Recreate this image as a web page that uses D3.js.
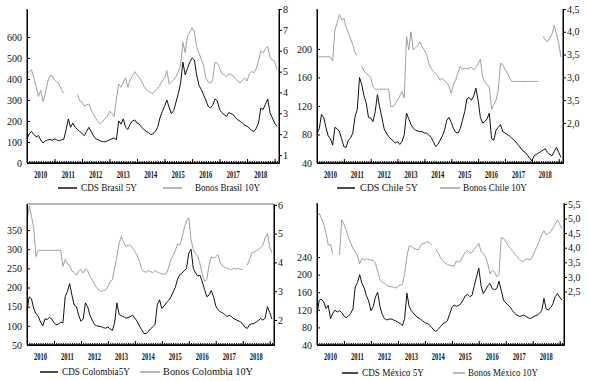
<!DOCTYPE html>
<html>
<head>
<meta charset="utf-8">
<script src="https://cdn.jsdelivr.net/npm/d3@7"></script>
<style>
  body { margin: 0; background: #fff; }
  svg text { font-family: "Liberation Serif", "Times New Roman", serif; fill: #111; }
</style>
</head>
<body>
<div id="chart"></div>
<script>
// ---------- datos (mensuales, ene-2010 a feb-2019) ----------
const startYear = 2010;
const yearLabels = ["2010", "2011", "2012", "2013", "2014", "2015", "2016", "2017", "2018"];

const brasilCDS = [
  115,140,150,135,125,130,110,95,105,110,112,108,
  115,110,105,110,112,155,210,170,190,170,160,150,
  140,130,150,170,150,130,115,110,105,102,100,105,
  110,115,120,110,200,185,210,170,160,185,200,205,
  190,185,170,160,150,145,135,140,150,170,215,245,
  270,300,265,235,250,290,330,380,480,420,450,480,
  500,490,420,370,350,325,300,270,262,275,305,295,
  255,240,230,222,240,235,230,215,205,198,190,180,
  175,165,155,150,165,190,262,255,280,305,240,215,
  190,175
];
const brasilBonos = [
  4.9,5.0,5.08,4.7,4.3,3.8,4.1,3.56,3.95,4.5,4.8,4.8,
  4.6,4.5,4.4,4.15,3.96,null,null,null,null,null,3.9,3.6,
  3.55,3.35,3.4,3.45,3.15,2.95,2.75,2.6,2.5,2.6,2.75,2.85,
  3.1,3.0,2.85,3.7,4.4,4.25,4.5,4.7,4.25,4.6,4.8,5.0,
  4.85,4.7,4.55,4.3,4.15,4.05,4.0,3.95,4.1,4.2,4.35,4.55,
  4.7,5.05,4.4,4.5,4.6,4.75,5.0,5.3,6.4,5.9,6.7,6.9,
  7.1,6.9,6.2,5.9,5.6,5.3,4.7,4.5,4.45,4.6,5.45,5.4,
  5.2,4.9,4.85,4.75,4.9,4.85,4.8,4.65,4.55,4.45,4.6,4.7,
  4.55,4.9,5.0,4.95,5.15,5.5,6.0,5.9,6.1,6.2,5.7,5.55,
  5.5,5.1
];

const chileCDS = [
  82,88,108,104,90,78,74,65,90,88,84,74,
  63,62,72,75,82,105,115,160,150,134,124,104,
  103,98,112,136,118,104,88,82,77,74,71,68,
  70,66,70,80,110,102,94,89,86,85,84,84,
  82,82,79,76,70,63,66,72,78,86,100,104,
  97,88,83,82,88,100,112,130,132,128,134,145,
  128,104,96,98,102,110,74,72,86,90,94,84,
  82,80,78,75,72,69,65,61,57,55,51,47,
  43,50,52,54,56,58,60,55,52,50,56,62,
  55,48
];
const chileBonos = [
  3.45,3.45,3.45,3.45,3.45,3.45,3.45,3.36,4.04,4.2,4.38,4.26,
  4.3,4.1,3.97,3.84,3.72,3.53,3.5,null,3.24,3.14,3.08,3.05,
  3.0,2.8,2.74,2.74,2.74,2.74,2.74,2.74,2.74,2.36,2.36,2.42,
  2.5,2.6,2.69,2.55,3.9,3.6,4.0,3.6,3.65,3.7,3.78,3.67,
  3.6,3.5,3.3,3.2,3.13,3.08,3.02,2.94,2.98,2.92,2.88,2.8,
  2.65,2.85,2.95,3.1,3.24,3.18,3.2,3.18,3.2,3.22,3.16,3.22,
  3.3,3.4,3.0,2.9,2.83,2.8,2.3,2.4,2.5,2.72,3.31,3.28,
  3.18,3.1,3.0,2.91,2.91,2.91,2.91,2.91,2.91,2.91,2.91,2.91,
  2.91,2.91,2.91,2.91,null,3.9,3.82,3.78,3.86,3.95,4.15,3.95,
  3.75,3.45
];

const colombiaCDS = [
  140,176,170,145,132,125,110,100,118,117,122,118,
  108,103,104,110,108,176,190,210,180,154,150,128,
  112,118,160,150,128,115,104,100,99,98,95,94,
  97,92,88,108,160,130,126,124,120,122,124,128,
  120,112,100,90,80,80,85,92,98,104,155,168,
  145,152,160,166,175,188,200,222,234,238,244,250,
  290,300,250,238,230,232,215,195,176,180,192,176,
  152,142,137,134,130,124,128,124,119,116,113,111,
  104,97,93,103,105,106,110,114,119,115,120,150,
  135,118
];
const colombiaBonos = [
  5.44,5.96,5.6,5.2,4.2,4.42,4.42,4.42,4.42,4.42,4.42,4.42,
  4.42,4.42,4.42,4.42,3.86,4.1,3.95,3.9,3.7,3.65,3.55,3.7,
  3.75,3.63,3.78,3.72,3.5,3.4,3.25,3.12,3.05,2.99,3.02,3.05,
  3.15,3.34,3.4,3.8,4.2,4.65,4.9,4.7,4.55,4.6,4.6,4.5,
  4.39,4.25,4.05,3.78,3.68,3.66,3.72,3.68,3.64,3.72,3.66,3.63,
  3.6,3.58,3.62,3.8,4.1,4.25,4.4,4.65,4.6,4.85,5.2,5.44,
  5.55,4.8,4.45,4.3,4.21,3.95,3.6,3.35,3.4,3.9,4.2,4.15,
  4.2,4.27,3.98,3.88,3.84,3.8,3.77,3.75,3.8,3.76,3.8,3.76,
  3.75,null,3.9,4.1,4.33,4.36,4.4,4.45,4.5,4.6,4.86,5.0,
  4.55,4.33
];

const mexicoCDS = [
  112,142,144,138,123,130,100,112,119,115,118,114,
  106,102,106,112,122,172,182,200,180,170,152,140,
  118,127,149,160,128,110,100,97,99,99,97,95,
  92,89,84,100,158,128,118,112,106,102,99,95,
  91,89,86,80,74,71,76,82,88,91,95,110,
  125,131,128,130,134,142,152,155,150,153,175,195,
  215,175,157,165,175,180,168,166,168,185,164,142,
  136,131,126,118,112,108,105,106,108,105,102,100,
  103,106,108,112,118,146,122,120,125,134,150,157,
  149,142
];
const mexicoBonos = [
  5.07,5.18,5.0,4.8,4.5,4.1,4.1,3.8,null,null,3.75,4.95,
  4.8,4.6,4.35,4.15,3.98,3.85,3.75,3.45,3.64,3.58,3.62,3.6,
  3.58,3.56,3.47,3.2,2.9,2.82,2.78,2.72,2.67,2.67,2.65,2.62,
  2.67,2.72,2.75,3.1,3.7,4.06,4.05,3.98,3.95,3.92,4.05,4.15,
  4.15,4.2,4.18,4.1,null,3.95,3.81,3.65,3.55,3.47,3.43,3.4,
  3.38,3.36,3.55,3.5,3.55,3.72,3.85,3.9,3.82,3.85,3.95,4.04,
  4.15,3.87,3.8,3.68,3.45,3.1,3.22,3.18,3.0,3.1,4.35,4.32,
  4.2,4.08,3.98,3.88,3.78,3.7,3.6,3.55,3.53,3.62,3.6,3.6,
  3.72,3.9,4.05,4.25,4.45,4.58,4.45,4.5,4.55,4.67,4.8,4.95,
  4.8,4.65
];

// ticks
const brasilLeftTicks = [0, 100, 200, 300, 400, 500, 600];
const brasilRightTicks = [1, 2, 3, 4, 5, 6, 7, 8];
const chileLeftTicks = [40, 80, 120, 160, 200];
const chileRightTicks = [2.0, 2.5, 3.0, 3.5, 4.0, 4.5];
const chileRightLabels = ["2,0", "3,5", "3,0", "3,5", "4,0", "4,5"];
const colombiaLeftTicks = [50, 100, 150, 200, 250, 300, 350];
const colombiaRightTicks = [2, 3, 4, 5, 6];
const mexicoLeftTicks = [40, 80, 120, 160, 200, 240];
const mexicoRightTicks = [2.5, 3.0, 3.5, 4.0, 4.5, 5.0, 5.5];
const mexicoRightLabels = ["2,5", "3,0", "3,5", "4,0", "4,5", "5,0", "5,5"];

// ---------- SVG ----------
const W = 589, H = 381;
const svg = d3.select("#chart").append("svg")
  .attr("width", W).attr("height", H);

const GRIS = "#a0a0a0";
const NEGRO = "#111";

function dibujarPanel(p) {
  const g = svg.append("g");
  const x = d3.scaleLinear().domain([2010, 2019.16]).range([p.x0, p.x1]);
  const yL = d3.scaleLinear().domain(p.leftDomain).range([p.yBottom, p.yTop]);
  const yR = d3.scaleLinear().domain(p.rightDomain).range([p.yBottom, p.yTop]);

  if (p.topLine) {
    g.append("line")
      .attr("x1", p.x0).attr("x2", p.x1)
      .attr("y1", p.yTop).attr("y2", p.yTop)
      .attr("stroke", GRIS).attr("stroke-width", 1.5);
  }

  const t = i => startYear + i / 12;

  // serie gris (eje derecho) primero, negra encima
  const lineR = d3.line().defined(d => d != null)
    .x((d, i) => x(t(i))).y(d => yR(d));
  const lineL = d3.line().defined(d => d != null)
    .x((d, i) => x(t(i))).y(d => yL(d));

  g.append("path").datum(p.bonos)
    .attr("d", lineR).attr("fill", "none")
    .attr("stroke", GRIS).attr("stroke-width", 1);
  g.append("path").datum(p.cds)
    .attr("d", lineL).attr("fill", "none")
    .attr("stroke", NEGRO).attr("stroke-width", 1);

  // eje izquierdo
  const axL = g.append("g").attr("transform", `translate(${p.x0},0)`)
    .call(d3.axisLeft(yL).tickValues(p.leftTicks).tickSize(-3).tickSizeOuter(0).tickPadding(5));
  // eje derecho
  const axR = g.append("g").attr("transform", `translate(${p.x1},0)`)
    .call(d3.axisRight(yR).tickValues(p.rightTicks).tickSize(3).tickSizeOuter(0).tickPadding(1)
      .tickFormat((d, i) => p.rightLabels ? p.rightLabels[i] : d));
  // eje inferior: marcas mensuales y anuales
  const meses = d3.range(0, 110).map(t);
  g.append("g").attr("transform", `translate(0,${p.yBottom})`)
    .call(d3.axisBottom(x).tickValues(meses).tickSize(-2).tickSizeOuter(0).tickFormat(""));
  g.append("g").attr("transform", `translate(0,${p.yBottom})`)
    .call(d3.axisBottom(x).tickValues(d3.range(2010, 2020)).tickSize(-4).tickSizeOuter(0).tickFormat(""));

  [axL, axR].forEach(a => {
    a.selectAll("text").style("font-size", "10px").style("font-family", "'Liberation Serif', serif");
    a.selectAll("path, line").attr("stroke", "#000");
  });
  // extender ejes verticales hasta abajo
  g.append("line").attr("x1", p.x0).attr("x2", p.x0)
    .attr("y1", p.yTop).attr("y2", p.yBottom).attr("stroke", "#000");
  g.append("line").attr("x1", p.x1).attr("x2", p.x1)
    .attr("y1", p.yTop).attr("y2", p.yBottom).attr("stroke", "#000");
  g.append("line").attr("x1", p.x0).attr("x2", p.x1)
    .attr("y1", p.yBottom).attr("y2", p.yBottom).attr("stroke", "#000").attr("stroke-width", 1.3);

  // etiquetas de años
  g.selectAll(".anio").data(yearLabels).join("text")
    .attr("class", "anio")
    .attr("x", d => x(+d + 0.5))
    .attr("y", p.yBottom + 15)
    .attr("text-anchor", "middle")
    .attr("textLength", 13).attr("lengthAdjust", "spacingAndGlyphs")
    .style("font-size", "10px").style("font-weight", "bold")
    .text(d => d);

  // leyenda
  const ly = p.legendY;
  g.append("line").attr("x1", p.legend[0]).attr("x2", p.legend[1])
    .attr("y1", ly).attr("y2", ly).attr("stroke", NEGRO).attr("stroke-width", 1.5);
  g.append("text").attr("x", p.legend[2]).attr("y", ly + 3)
    .attr("textLength", p.legend[3]).attr("lengthAdjust", "spacingAndGlyphs")
    .style("font-size", "10px").text(p.cdsName);
  g.append("line").attr("x1", p.legend[4]).attr("x2", p.legend[5])
    .attr("y1", ly).attr("y2", ly).attr("stroke", GRIS).attr("stroke-width", 1.5);
  g.append("text").attr("x", p.legend[6]).attr("y", ly + 3)
    .attr("textLength", p.legend[7]).attr("lengthAdjust", "spacingAndGlyphs")
    .style("font-size", "10px").text(p.bonosName);
}

dibujarPanel({
  x0: 27, x1: 279, yTop: 9, yBottom: 163,
  leftDomain: [0, 733], rightDomain: [0.62, 8],
  leftTicks: brasilLeftTicks, rightTicks: brasilRightTicks,
  cds: brasilCDS, bonos: brasilBonos,
  cdsName: "CDS Brasil 5Y", bonosName: "Bonos Brasil 10Y",
  legendY: 188, legend: [58, 77, 81, 56, 163, 182, 195, 65]
});

dibujarPanel({
  x0: 317, x1: 563, yTop: 9, yBottom: 163,
  leftDomain: [40, 256], rightDomain: [1.12, 4.5],
  leftTicks: chileLeftTicks, rightTicks: chileRightTicks, rightLabels: chileRightLabels,
  cds: chileCDS, bonos: chileBonos,
  cdsName: "CDS Chile 5Y", bonosName: "Bonos Chile 10Y",
  legendY: 188, legend: [337, 355, 360, 58, 440, 460, 463, 64]
});

dibujarPanel({
  x0: 27, x1: 274, yTop: 204, yBottom: 345, topLine: true,
  leftDomain: [50, 418], rightDomain: [1.13, 6.03],
  leftTicks: colombiaLeftTicks, rightTicks: colombiaRightTicks,
  cds: colombiaCDS, bonos: colombiaBonos,
  cdsName: "CDS Colombia5Y", bonosName: "Bonos Colombia 10Y",
  legendY: 372, legend: [40, 58, 62, 68, 140, 160, 163, 90]
});

dibujarPanel({
  x0: 317, x1: 564, yTop: 203, yBottom: 345,
  leftDomain: [40, 363], rightDomain: [0.67, 5.53],
  leftTicks: mexicoLeftTicks, rightTicks: mexicoRightTicks, rightLabels: mexicoRightLabels,
  cds: mexicoCDS, bonos: mexicoBonos,
  cdsName: "CDS México 5Y", bonosName: "Bonos México 10Y",
  legendY: 373, legend: [342, 358, 362, 62, 453, 465, 468, 70]
});
</script>
</body>
</html>
